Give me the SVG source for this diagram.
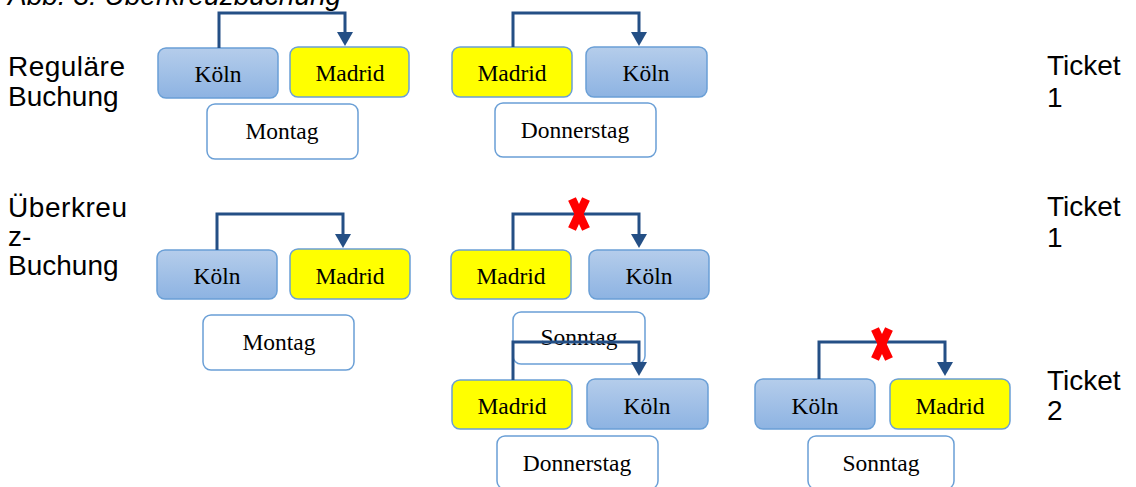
<svg xmlns="http://www.w3.org/2000/svg" width="1136" height="487" viewBox="0 0 1136 487">
<style>
.lbl{font-family:"Liberation Sans",Arial,sans-serif;font-size:28px;fill:#000}
.title{font-family:"Liberation Sans",Arial,sans-serif;font-size:28px;font-style:italic;fill:#000}
.nt{font-family:"Liberation Serif","Times New Roman",serif;font-size:23.5px;fill:#000;text-anchor:middle}
.koeln{fill:url(#blueGrad);stroke:#6A9FD6;stroke-width:1.5}
.madrid{fill:#FFFF00;stroke:#6A9FD6;stroke-width:1.5}
.day{fill:#FFFFFF;stroke:#6A9FD6;stroke-width:1.5}
.conn{fill:none;stroke:#244F85;stroke-width:3;marker-end:url(#arr)}
.x{stroke:#FF0000;stroke-width:8.5;stroke-linecap:butt}
</style>
<defs>
<linearGradient id="blueGrad" x1="0" y1="0" x2="0" y2="1">
<stop offset="0" stop-color="#B5CDEB"/>
<stop offset="1" stop-color="#8DB3E2"/>
</linearGradient>
<marker id="arr" viewBox="0 0 14 16" refX="0" refY="8" markerWidth="14" markerHeight="16" markerUnits="userSpaceOnUse" orient="auto">
<path d="M0,0 L14,8 L0,16 z" fill="#244F85"/>
</marker>
</defs>
<rect width="1136" height="487" fill="#FFFFFF"/>
<g id="labels">
<text class="title" x="8" y="5">Abb. 3: Überkreuzbuchung</text>
<text class="lbl" x="8" y="76" textLength="117">Reguläre</text>
<text class="lbl" x="8" y="106">Buchung</text>
<text class="lbl" x="8" y="217" textLength="119">Überkreu</text>
<text class="lbl" x="8" y="246">z-</text>
<text class="lbl" x="8" y="275">Buchung</text>
<text class="lbl" x="1047" y="75">Ticket</text>
<text class="lbl" x="1047" y="107">1</text>
<text class="lbl" x="1047" y="216">Ticket</text>
<text class="lbl" x="1047" y="247">1</text>
<text class="lbl" x="1047" y="390">Ticket</text>
<text class="lbl" x="1047" y="420">2</text>
</g>
<g id="r1-koeln"><rect class="koeln" x="158" y="48" width="120" height="50" rx="8"/><text class="nt" x="218" y="82">Köln</text></g>
<g id="r1-madrid"><rect class="madrid" x="290" y="47" width="119" height="50" rx="8"/><text class="nt" x="350" y="81">Madrid</text></g>
<g id="r1-montag"><rect class="day" x="207" y="104" width="151" height="55" rx="8"/><text class="nt" x="282" y="139">Montag</text></g>
<g id="r1-madrid2"><rect class="madrid" x="452" y="47" width="120" height="50" rx="8"/><text class="nt" x="512" y="81">Madrid</text></g>
<g id="r1-koeln2"><rect class="koeln" x="586" y="47" width="121" height="50" rx="8"/><text class="nt" x="646" y="81">Köln</text></g>
<g id="r1-donnerstag"><rect class="day" x="495" y="103" width="161" height="54" rx="8"/><text class="nt" x="575" y="138">Donnerstag</text></g>
<g id="r2-koeln"><rect class="koeln" x="157" y="250" width="120" height="49" rx="8"/><text class="nt" x="217" y="284">Köln</text></g>
<g id="r2-madrid"><rect class="madrid" x="290" y="249" width="120" height="50" rx="8"/><text class="nt" x="350" y="284">Madrid</text></g>
<g id="r2-montag"><rect class="day" x="203" y="315" width="151" height="55" rx="8"/><text class="nt" x="279" y="350">Montag</text></g>
<g id="r2-madrid2"><rect class="madrid" x="451" y="250" width="120" height="49" rx="8"/><text class="nt" x="511" y="284">Madrid</text></g>
<g id="r2-koeln2"><rect class="koeln" x="589" y="250" width="120" height="49" rx="8"/><text class="nt" x="649" y="284">Köln</text></g>
<g id="r2-sonntag"><rect class="day" x="513" y="312" width="132" height="52" rx="8"/><text class="nt" x="579" y="345">Sonntag</text></g>
<g id="r3-madrid"><rect class="madrid" x="452" y="380" width="120" height="49" rx="8"/><text class="nt" x="512" y="414">Madrid</text></g>
<g id="r3-koeln"><rect class="koeln" x="587" y="379" width="121" height="50" rx="8"/><text class="nt" x="647" y="414">Köln</text></g>
<g id="r3-donnerstag"><rect class="day" x="497" y="436" width="161" height="53" rx="8"/><text class="nt" x="577" y="471">Donnerstag</text></g>
<g id="r3-koeln2"><rect class="koeln" x="755" y="379" width="120" height="50" rx="8"/><text class="nt" x="815" y="414">Köln</text></g>
<g id="r3-madrid2"><rect class="madrid" x="890" y="379" width="120" height="50" rx="8"/><text class="nt" x="950" y="414">Madrid</text></g>
<g id="r3-sonntag"><rect class="day" x="808" y="436" width="146" height="53" rx="8"/><text class="nt" x="881" y="471">Sonntag</text></g>
<g id="connectors">
<path class="conn" d="M219,48 V13 H345 V32"/>
<path class="conn" d="M513,47 V13 H639 V32"/>
<path class="conn" d="M217,250 V214 H343 V234"/>
<path class="conn" d="M513,250 V214 H639 V234"/>
<path class="conn" d="M513,380 V342 H639 V362"/>
<path class="conn" d="M819,379 V342 H945 V362"/>
<line class="x" x1="572" y1="199" x2="586" y2="229"/>
<line class="x" x1="586" y1="199" x2="572" y2="229"/>
<line class="x" x1="875" y1="329" x2="889" y2="359"/>
<line class="x" x1="889" y1="329" x2="875" y2="359"/>
</g>
</svg>
